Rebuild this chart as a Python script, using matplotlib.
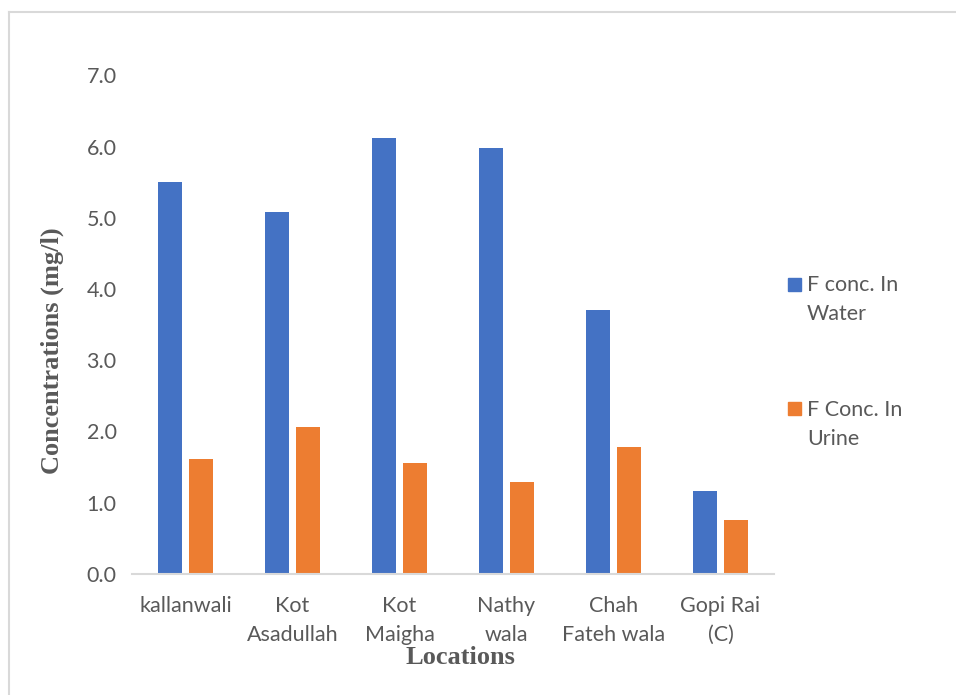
import numpy as np
import matplotlib.pyplot as plt
from matplotlib.patches import Rectangle
from matplotlib.lines import Line2D

locations = ["kallanwali", "Kot\nAsadullah", "Kot\nMaigha", "Nathy\nwala",
             "Chah\nFateh wala", "Gopi Rai\n(C)"]
water = [5.50, 5.08, 6.12, 5.98, 3.71, 1.16]
urine = [1.61, 2.06, 1.56, 1.29, 1.78, 0.76]
series_names = ["F conc. In\nWater", "F Conc. In\nUrine"]
yticks = [0, 1, 2, 3, 4, 5, 6, 7]

blue = "#4472C4"
orange = "#ED7D31"
grey_text = "#595959"
tick_font = "Lato"
title_font = "Liberation Serif"

W, H = 956, 695
fig = plt.figure(figsize=(W / 100, H / 100), dpi=100)
ax = fig.add_axes([132 / W, 1 - 573.7 / H, 642 / W, 498.4 / H])

x = np.arange(len(locations))
bw = 0.225
off = 0.143
ax.bar(x - off, water, bw, color=blue, label=series_names[0])
ax.bar(x + off, urine, bw, color=orange, label=series_names[1])

ax.set_xlim(-0.5, len(locations) - 0.5)
ax.set_ylim(0, 7)
ax.set_yticks(yticks)
ax.set_yticklabels([f"{v:.1f}" for v in yticks], fontsize=15.5,
                   family=tick_font, color=grey_text)
ax.set_xticks(x)
ax.set_xticklabels(locations, fontsize=15.5, family=tick_font,
                   color=grey_text, linespacing=1.55, va="top")
ax.tick_params(axis="y", length=0, pad=11)
ax.tick_params(axis="x", length=0, pad=16)

for s in ["top", "right", "left"]:
    ax.spines[s].set_visible(False)
ax.spines["bottom"].set_color("#d9d9d9")
ax.spines["bottom"].set_linewidth(1.5)

fig.text(52 / W, 1 - 351 / H, "Concentrations (mg/l)", rotation=90,
         ha="center", va="center", fontsize=19, fontweight="bold",
         family=title_font, color=grey_text)
fig.text(460 / W, 1 - 657 / H, "Locations", ha="center", va="center",
         fontsize=19, fontweight="bold", family=title_font, color=grey_text)

# legend drawn by hand so the swatch sits on the first text line
for (top_px, color, name) in [(277.5, blue, series_names[0]),
                              (401.7, orange, series_names[1])]:
    fig.add_artist(Rectangle((787.5 / W, 1 - (top_px + 13.5) / H),
                             13.5 / W, 13.5 / H, transform=fig.transFigure,
                             color=color))
    fig.text(807 / W, 1 - (top_px - 2) / H, name, ha="left", va="top",
             fontsize=15.5, family=tick_font, color=grey_text,
             linespacing=1.55)

# chart frame
fig.add_artist(Line2D([8.5 / W, 8.5 / W], [0, 1 - 12 / H],
                      transform=fig.transFigure, color="#d9d9d9", lw=1.5))
fig.add_artist(Line2D([8.5 / W, 1], [1 - 12 / H, 1 - 12 / H],
                      transform=fig.transFigure, color="#d9d9d9", lw=1.5))

fig.savefig("out.png", dpi=100)
